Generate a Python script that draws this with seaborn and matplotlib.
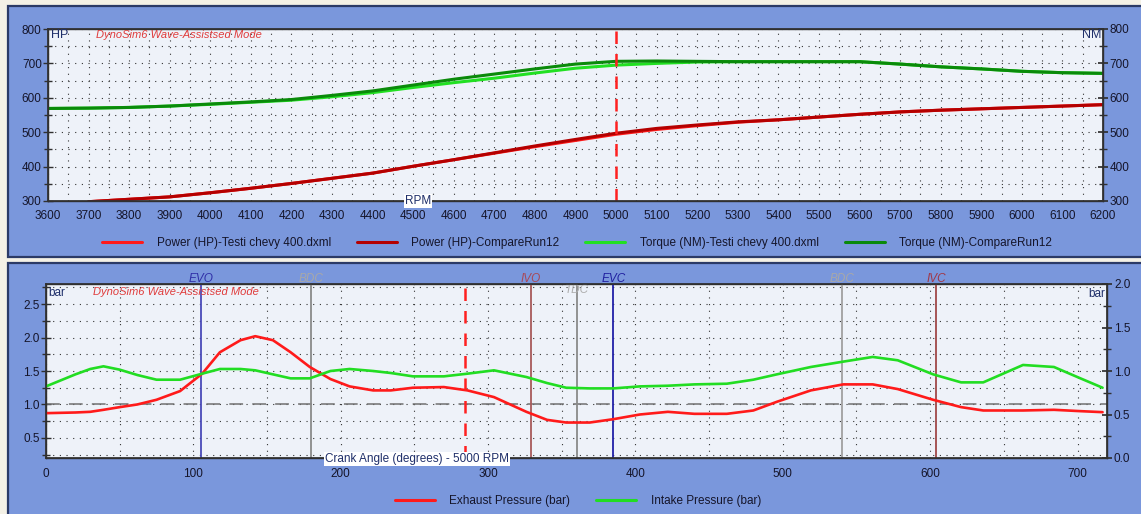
import numpy as np
import pandas as pd
import matplotlib
matplotlib.use("Agg")
import matplotlib.pyplot as plt
from matplotlib.patches import Rectangle
from matplotlib.lines import Line2D
from matplotlib.ticker import MultipleLocator
import matplotlib.transforms as mtransforms
import seaborn as sns

# ---------------- data: top chart (RPM sweep) ----------------
rpm = [3600, 3700, 3800, 3900, 4000, 4100, 4200, 4300, 4400, 4500, 4600, 4700, 4800, 4900,
       5000, 5100, 5200, 5300, 5400, 5500, 5600, 5700, 5800, 5900, 6000, 6100, 6200]
power_testi = [np.nan, 298, 305, 312, 324, 337, 351, 366, 381, 401, 420, 439, 458, 476,
               494, 508, 519, 529, 536, 544, 552, 559, 564, 568, 572, 576, 580]
power_compare = [np.nan, 298, 305, 312, 324, 337, 351, 366, 381, 401, 420, 440, 460, 479,
                 497, 511, 521, 530, 536, 544, 552, 559, 564, 568, 572, 576, 580]
torque_testi = [569, 570, 572, 576, 581, 587, 593, 603, 615, 630, 644, 657, 672, 686,
                695, 700, 704, 705, 705, 705, 705, 698, 690, 684, 677, 673, 671]
torque_compare = [569, 570, 572, 576, 582, 588, 595, 607, 620, 637, 654, 669, 684, 698,
                  706, 707, 706, 705, 705, 705, 705, 698, 690, 684, 677, 673, 671]
top_series = ["Power (HP)-Testi chevy 400.dxml", "Power (HP)-CompareRun12",
              "Torque (NM)-Testi chevy 400.dxml", "Torque (NM)-CompareRun12"]
top_colors = ["#ff1a1a", "#b40000", "#22e022", "#0a8a0a"]

# ---------------- data: bottom chart (crank angle) ----------------
crank = [0, 20, 30, 39, 50, 62, 75, 91, 106, 118, 132, 142, 154, 166, 179, 193, 206, 222,
         234, 249, 270, 286, 304, 326, 340, 353, 369, 385, 403, 422, 440, 462, 480, 496,
         519, 541, 561, 578, 602, 621, 636, 663, 684, 702, 717]
exhaust = [0.87, 0.88, 0.89, 0.92, 0.96, 1.00, 1.07, 1.20, 1.46, 1.78, 1.96, 2.02, 1.96,
           1.78, 1.56, 1.38, 1.27, 1.21, 1.21, 1.25, 1.26, 1.21, 1.11, 0.89, 0.77, 0.73,
           0.73, 0.78, 0.85, 0.89, 0.86, 0.86, 0.91, 1.04, 1.21, 1.30, 1.30, 1.23, 1.07,
           0.96, 0.91, 0.91, 0.92, 0.90, 0.885]
intake = [1.27, 1.45, 1.53, 1.57, 1.52, 1.44, 1.37, 1.37, 1.46, 1.53, 1.53, 1.51, 1.45,
          1.39, 1.39, 1.50, 1.53, 1.50, 1.47, 1.42, 1.42, 1.46, 1.51, 1.41, 1.32, 1.25,
          1.24, 1.24, 1.27, 1.28, 1.30, 1.31, 1.37, 1.45, 1.56, 1.64, 1.71, 1.66, 1.45,
          1.33, 1.33, 1.59, 1.56, 1.39, 1.25]
bot_series = ["Exhaust Pressure (bar)", "Intake Pressure (bar)"]
bot_colors = ["#ff1a1a", "#22dd22"]

event_names = ["EVO", "BDC", "IVO", "TDC", "EVC", "BDC", "IVC"]
event_angles = [105, 180, 329, 360, 385, 540, 604]
event_line_colors = ["#4a4ab8", "#8a8a8a", "#a85a5a", "#8a8a8a", "#2020a8", "#a0a0a0", "#a04848"]
event_text_colors = ["#3030a8", "#a8a8a8", "#a84858", "#b0b0b0", "#2020a0", "#a8a8a8", "#a03848"]
event_inside = [False, False, False, True, False, False, False]

cursor_rpm = 5000
cursor_angle = 284

# ---------------- figure ----------------
sns.set_theme(style="white")
plt.rcParams['font.family'] = ['Liberation Sans', 'DejaVu Sans']

W, H = 1141, 514
fig = plt.figure(figsize=(W / 100, H / 100), dpi=100)
fig.patch.set_facecolor('#f4f1e6')


def fx(px):
    return px / W


def fy(py):
    return 1 - py / H


PANEL = '#7a97dc'
EDGE = '#2b3a66'
for (y0, y1) in [(6, 257), (263, 516)]:
    fig.add_artist(Rectangle((fx(8), fy(y1)), fx(1145) - fx(8), fy(y0) - fy(y1),
                             transform=fig.transFigure, facecolor=PANEL, edgecolor=EDGE,
                             lw=1.6, zorder=-10))

ax1 = fig.add_axes([fx(48), fy(201), fx(1103) - fx(48), fy(29) - fy(201)])
ax2 = fig.add_axes([fx(46), fy(458), fx(1107) - fx(46), fy(284) - fy(458)])

TXT = '#15152a'
NAVY = '#1f2f6a'


def style(ax):
    ax.set_facecolor('#eef2f9')
    for s in ax.spines.values():
        s.set_color('#303030')
        s.set_linewidth(1.0)
    ax.tick_params(which='both', direction='inout', colors='#303030', labelcolor=TXT,
                   labelsize=8.5, width=1.0)
    ax.tick_params(which='major', length=7)
    ax.tick_params(which='minor', length=6)
    ax.grid(which='both', color='#333333', linestyle=(0, (1, 5)), lw=0.8)
    ax.set_axisbelow(True)
    ax.set_xlabel('')
    ax.set_ylabel('')


# ---- top chart ----
df_top = pd.DataFrame({
    'rpm': rpm * 4,
    'value': power_testi + power_compare + torque_testi + torque_compare,
    'series': sum([[s] * len(rpm) for s in top_series], []),
})
sns.lineplot(data=df_top, x='rpm', y='value', hue='series', hue_order=top_series,
             palette=dict(zip(top_series, top_colors)), estimator=None, lw=2.2,
             ax=ax1, legend=False)
ax1.set_xlim(3600, 6200)
ax1.set_ylim(300, 800)
ax1.xaxis.set_major_locator(MultipleLocator(100))
ax1.xaxis.set_minor_locator(MultipleLocator(50))
ax1.yaxis.set_major_locator(MultipleLocator(100))
ax1.yaxis.set_minor_locator(MultipleLocator(50))
style(ax1)
ax1.tick_params(axis='x', pad=3)
ax1.tick_params(axis='y', pad=1)
ax1.axvline(cursor_rpm, color='#ff2020', lw=1.8, dashes=(5, 4), zorder=5)

ax1r = ax1.twinx()
ax1r.set_ylim(300, 800)
ax1r.yaxis.set_major_locator(MultipleLocator(100))
ax1r.yaxis.set_minor_locator(MultipleLocator(50))
ax1r.tick_params(which='both', direction='inout', colors='#303030', labelcolor=TXT,
                 labelsize=8.5, pad=1)
ax1r.tick_params(which='major', length=7)
ax1r.tick_params(which='minor', length=6)
ax1r.grid(False)
for s in ax1r.spines.values():
    s.set_color('#303030')

# ---- bottom chart ----
df_bot = pd.DataFrame({
    'angle': crank * 2,
    'value': exhaust + intake,
    'series': [bot_series[0]] * len(crank) + [bot_series[1]] * len(crank),
})
sns.lineplot(data=df_bot, x='angle', y='value', hue='series', hue_order=bot_series,
             palette=dict(zip(bot_series, bot_colors)), estimator=None, lw=1.9,
             ax=ax2, legend=False, zorder=4)
ax2.set_xlim(0, 720)
ax2.set_ylim(0.2, 2.8)
ax2.xaxis.set_major_locator(MultipleLocator(100))
ax2.xaxis.set_minor_locator(MultipleLocator(50))
ax2.yaxis.set_major_locator(MultipleLocator(0.5))
ax2.yaxis.set_minor_locator(MultipleLocator(0.25))
style(ax2)
ax2.tick_params(axis='x', pad=4)
ax2.tick_params(axis='y', pad=1)
ax2.axhline(1.0, color='#707070', lw=1.1, dashes=(9, 6), zorder=2)
ax2.axvline(cursor_angle, color='#ff2020', lw=1.8, dashes=(5, 4), zorder=5)

trans = mtransforms.blended_transform_factory(ax2.transData, ax2.transAxes)
for name, ang, lc, tc, inside in zip(event_names, event_angles, event_line_colors,
                                     event_text_colors, event_inside):
    ax2.axvline(ang, color=lc, lw=1.3, zorder=3)
    ax2.text(ang, 0.966 if inside else 1.03, name, transform=trans, ha='center',
             va='center', color=tc, fontsize=8.5, fontstyle='italic', clip_on=False)

ax2r = ax2.twinx()
ax2r.set_ylim(0.0, 2.0)
ax2r.yaxis.set_major_locator(MultipleLocator(0.5))
ax2r.yaxis.set_minor_locator(MultipleLocator(0.25))
ax2r.yaxis.set_major_formatter(matplotlib.ticker.FormatStrFormatter('%.1f'))
ax2r.tick_params(which='both', direction='inout', colors='#303030', labelcolor=TXT,
                 labelsize=8.5, pad=1.5)
ax2r.tick_params(which='major', length=7)
ax2r.tick_params(which='minor', length=6)
ax2r.grid(False)
for s in ax2r.spines.values():
    s.set_color('#303030')

# ---- text inside plots ----
mode = 'DynoSim6 Wave-Assistsed Mode'
fig.text(fx(96), fy(35), mode, color='#e03c3c', fontstyle='italic', fontsize=8,
         va='center', ha='left')
fig.text(fx(93), fy(292), mode, color='#e03c3c', fontstyle='italic', fontsize=8,
         va='center', ha='left')
fig.text(fx(51), fy(35), 'HP', color=NAVY, fontsize=9, va='center', ha='left')
fig.text(fx(1101), fy(35), 'NM', color=NAVY, fontsize=9, va='center', ha='right')
fig.text(fx(48), fy(293), 'bar', color=NAVY, fontsize=8.5, va='center', ha='left')
fig.text(fx(1105), fy(294), 'bar', color=NAVY, fontsize=8.5, va='center', ha='right')
fig.text(fx(418), fy(201), 'RPM', color=NAVY, fontsize=8.5, va='center', ha='center',
         bbox=dict(facecolor='white', edgecolor='none', pad=0.6))
fig.text(fx(417), fy(459), 'Crank Angle (degrees) - 5000 RPM', color=NAVY, fontsize=8.5,
         va='center', ha='center', bbox=dict(facecolor='white', edgecolor='none', pad=0.6))

# ---- legends ----
top_handles = [Line2D([0], [0], color=c, lw=2.2) for c in top_colors]
fig.legend(top_handles, top_series, loc='center', bbox_to_anchor=(fx(577), fy(243)),
           ncol=4, frameon=False, fontsize=8.5, handlelength=3.4, handletextpad=1.2,
           columnspacing=2.2, labelcolor=TXT)
bot_handles = [Line2D([0], [0], color=c, lw=2.2) for c in bot_colors]
fig.legend(bot_handles, bot_series, loc='center', bbox_to_anchor=(fx(578), fy(501)),
           ncol=2, frameon=False, fontsize=8.5, handlelength=3.4, handletextpad=1.2,
           columnspacing=2.2, labelcolor=TXT)

fig.savefig('out.png', dpi=100, facecolor=fig.get_facecolor())
